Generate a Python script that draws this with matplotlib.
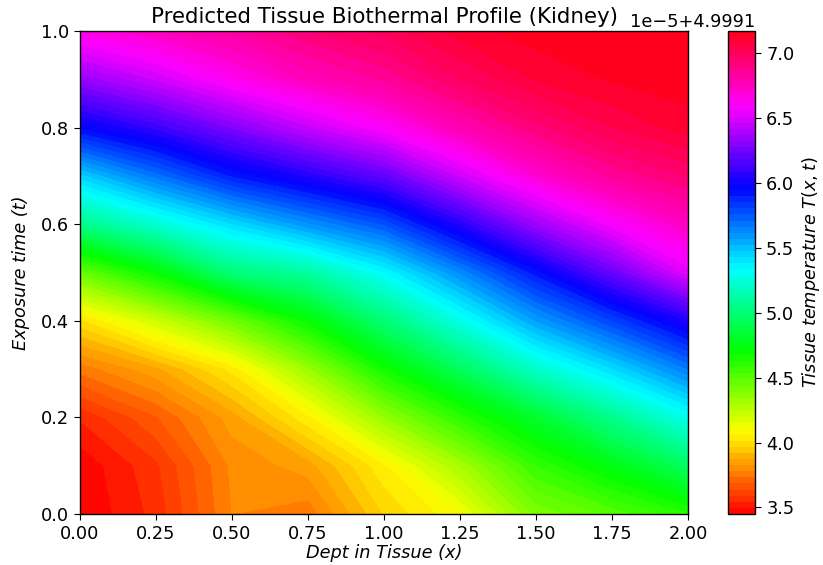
import numpy as np
import matplotlib
matplotlib.use("Agg")
import matplotlib.pyplot as plt

plt.rcParams["font.size"] = 12.8
plt.rcParams["xtick.major.size"] = 4.5
plt.rcParams["ytick.major.size"] = 4.5
plt.rcParams["axes.linewidth"] = 1.0

depth = [0.0, 0.25, 0.5, 0.75, 1.0, 1.25, 1.5, 1.75, 2.0]
times = [0.0, 0.1, 0.2, 0.3, 0.4, 0.5, 0.6, 0.7, 0.8, 0.9, 1.0]

# temperature above 4.9991, in units of 1e-5 (one list per depth column)
temp_x000 = [3.45, 3.46, 3.55, 3.75, 4.00, 4.45, 5.04, 5.45, 5.95, 6.33, 6.65]
temp_x025 = [3.56, 3.58, 3.68, 3.86, 4.20, 4.70, 5.22, 5.68, 6.10, 6.47, 6.74]
temp_x050 = [3.78, 3.79, 3.85, 4.03, 4.43, 5.00, 5.42, 5.90, 6.28, 6.63, 6.82]
temp_x075 = [3.75, 3.85, 4.05, 4.33, 4.70, 5.10, 5.60, 6.05, 6.45, 6.76, 6.93]
temp_x100 = [3.97, 4.05, 4.34, 4.67, 4.99, 5.33, 5.76, 6.20, 6.60, 6.85, 7.00]
temp_x125 = [4.10, 4.30, 4.60, 4.93, 5.27, 5.62, 6.05, 6.47, 6.78, 6.98, 7.10]
temp_x150 = [4.40, 4.58, 4.82, 5.20, 5.57, 5.92, 6.35, 6.70, 6.92, 7.08, 7.15]
temp_x175 = [4.50, 4.75, 5.05, 5.42, 5.80, 6.22, 6.58, 6.85, 7.03, 7.13, 7.16]
temp_x200 = [4.62, 4.94, 5.29, 5.66, 6.04, 6.53, 6.74, 6.94, 7.10, 7.15, 7.17]

cols = [temp_x000, temp_x025, temp_x050, temp_x075, temp_x100,
        temp_x125, temp_x150, temp_x175, temp_x200]

X, Tm = np.meshgrid(depth, times)
Z = 4.9991 + np.array(cols).T * 1e-5

fig = plt.figure(figsize=(8.23, 5.65), dpi=100)
ax = fig.add_axes([0.0972, 0.0903, 0.7388, 0.8548])
cax = fig.add_axes([0.8846, 0.0903, 0.0328, 0.8548])

levels = np.linspace(Z.min(), Z.max(), 80)
cf = ax.contourf(X, Tm, Z, levels=levels, cmap="hsv")
ax.set_xlim(0, 2)
ax.set_ylim(0, 1)

cb = fig.colorbar(cf, cax=cax)
cb.set_ticks(4.9991 + np.arange(3.5, 7.01, 0.5) * 1e-5)
cb.set_label("Tissue temperature $T(x,t)$", style="italic")

ax.set_title("Predicted Tissue Biothermal Profile (Kidney)")
ax.set_xlabel("Dept in Tissue (x)", style="italic", labelpad=1)
ax.set_ylabel("Exposure time (t)", style="italic", labelpad=8)

fig.savefig("out.png", dpi=100)
